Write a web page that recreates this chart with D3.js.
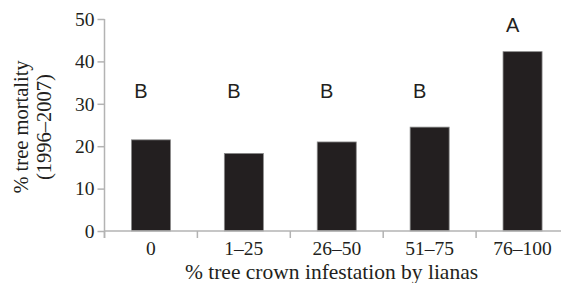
<!DOCTYPE html>
<html>
<head>
<meta charset="utf-8">
<script src="https://cdn.jsdelivr.net/npm/d3@7"></script>
<style>
  html, body { margin: 0; padding: 0; background: #fff; }
  svg { display: block; }
</style>
</head>
<body>
<svg id="chart" width="561" height="283"></svg>
<script>
const categories = ["0", "1\u201325", "26\u201350", "51\u201375", "76\u2013100"];
const mortality = [21.5, 18.3, 21.0, 24.5, 42.3];
const groupLetters = ["B", "B", "B", "B", "A"];
const yTicks = [0, 10, 20, 30, 40, 50];
const xTitle = "% tree crown infestation by lianas";
const yTitleLines = ["% tree mortality", "(1996\u20132007)"];

const svg = d3.select("#chart");
const axisColor = "#b3b3b3";
const inkColor = "#231f20";
const serif = "'Liberation Serif', 'Times New Roman', serif";
const sans = "'Liberation Sans', Arial, sans-serif";

const x0 = 104.5, x1 = 569, yTop = 19, yBot = 231;
const x = d3.scaleBand().domain(categories).range([x0, x1])
  .paddingInner(0.58).paddingOuter(0.29);
const y = d3.scaleLinear().domain([0, 50]).range([yBot, yTop]);

// bars
svg.append("g").selectAll("rect").data(categories).join("rect")
  .attr("x", d => x(d))
  .attr("width", x.bandwidth())
  .attr("y", (d, i) => y(mortality[i]))
  .attr("height", (d, i) => y(0) - y(mortality[i]))
  .attr("fill", inkColor)
  .attr("stroke", "#8a8a8a")
  .attr("stroke-width", 0.8);

// x axis line
svg.append("line").attr("x1", x0).attr("x2", 561).attr("y1", y(0)).attr("y2", y(0))
  .attr("stroke", axisColor).attr("stroke-width", 1.5);
// x boundary ticks
svg.append("g").selectAll("line").data(d3.range(categories.length + 1)).join("line")
  .attr("x1", i => x0 + i * x.step()).attr("x2", i => x0 + i * x.step())
  .attr("y1", y(0)).attr("y2", y(0) + 7)
  .attr("stroke", axisColor).attr("stroke-width", 1.5);

// x tick labels
const xAxis = svg.append("g").attr("transform", `translate(0,${y(0)})`)
  .call(d3.axisBottom(x).tickSize(0).tickPadding(10));
xAxis.select(".domain").remove();
xAxis.selectAll("text").attr("font-family", serif).attr("font-size", 19.5)
  .attr("fill", inkColor).attr("dy", "0.71em");

// y axis
svg.append("line").attr("x1", x0).attr("x2", x0).attr("y1", y(50)).attr("y2", y(0) + 7)
  .attr("stroke", axisColor).attr("stroke-width", 1.5);
const yAxis = svg.append("g").attr("transform", `translate(${x0},0)`)
  .call(d3.axisLeft(y).tickValues(yTicks).tickSize(7).tickPadding(3).tickFormat(d3.format("d")));
yAxis.select(".domain").remove();
yAxis.selectAll("line").attr("stroke", axisColor).attr("stroke-width", 1.5);
yAxis.selectAll("text").attr("font-family", serif).attr("font-size", 19.5).attr("fill", inkColor);

// group letters
svg.append("g").selectAll("text").data(categories).join("text")
  .attr("x", d => x(d) + x.bandwidth() / 2 - 10)
  .attr("y", (d, i) => Math.min(y(31.4), y(mortality[i]) - 20))
  .attr("text-anchor", "middle")
  .attr("font-family", sans).attr("font-size", 20).attr("fill", inkColor)
  .text((d, i) => groupLetters[i]);

// x title
svg.append("text").attr("x", (185 + 478) / 2).attr("y", 279)
  .attr("text-anchor", "middle").attr("font-family", serif).attr("font-size", 21.5)
  .attr("fill", inkColor).text(xTitle);

// y title
const yt = svg.append("text").attr("transform", "translate(0,127) rotate(-90)")
  .attr("text-anchor", "middle").attr("font-family", serif).attr("font-size", 20.5)
  .attr("fill", inkColor);
yt.selectAll("tspan").data(yTitleLines).join("tspan")
  .attr("x", 0).attr("y", (d, i) => i === 0 ? 28 : 51).text(d => d);
</script>
</body>
</html>
